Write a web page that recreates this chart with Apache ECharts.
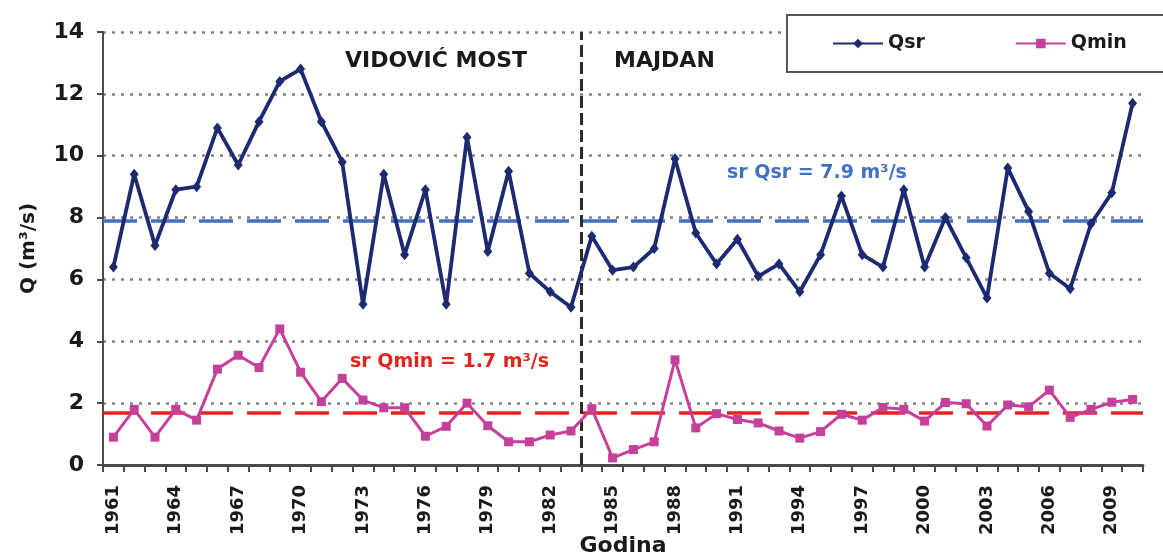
<!DOCTYPE html>
<html>
<head>
<meta charset="utf-8">
<script src="https://cdn.jsdelivr.net/npm/echarts@6/dist/echarts.min.js"></script>
<style>
  html, body { margin: 0; padding: 0; background: #ffffff; }
  #chart { width: 1163px; height: 556px; }
</style>
</head>
<body>
<div id="chart"></div>
<script>
// Years of record (1961–1983 Vidović Most, 1984–2010 Majdan)
const years = [
  '1961','1962','1963','1964','1965','1966','1967','1968','1969','1970',
  '1971','1972','1973','1974','1975','1976','1977','1978','1979','1980',
  '1981','1982','1983','1984','1985','1986','1987','1988','1989','1990',
  '1991','1992','1993','1994','1995','1996','1997','1998','1999','2000',
  '2001','2002','2003','2004','2005','2006','2007','2008','2009','2010'
];

// Mean annual discharge Qsr (m³/s)
const qsr = [
  6.4, 9.4, 7.1, 8.9, 9.0, 10.9, 9.7, 11.1, 12.4, 12.8,
  11.1, 9.8, 5.2, 9.4, 6.8, 8.9, 5.2, 10.6, 6.9, 9.5,
  6.2, 5.6, 5.1, 7.4, 6.3, 6.4, 7.0, 9.9, 7.5, 6.5,
  7.3, 6.1, 6.5, 5.6, 6.8, 8.7, 6.8, 6.4, 8.9, 6.4,
  8.0, 6.7, 5.4, 9.6, 8.2, 6.2, 5.7, 7.8, 8.8, 11.7
];

// Minimum annual discharge Qmin (m³/s)
const qmin = [
  0.9, 1.8, 0.9, 1.8, 1.45, 3.1, 3.55, 3.15, 4.4, 3.0,
  2.05, 2.8, 2.1, 1.85, 1.85, 0.93, 1.25, 2.0, 1.27, 0.75,
  0.75, 0.97, 1.1, 1.82, 0.23, 0.5, 0.75, 3.4, 1.2, 1.66,
  1.47, 1.36, 1.1, 0.87, 1.08, 1.64, 1.45, 1.86, 1.8, 1.42,
  2.02, 1.98, 1.26, 1.94, 1.88, 2.42, 1.54, 1.8, 2.03, 2.12
];

// Long-term averages
const meanQsr = 7.9;
const meanQmin = 1.7;

// First year measured at the Majdan station
const firstMajdanYear = '1984';

// Value-axis range
const yMin = 0, yMax = 14, yStep = 2;

const FONT = '"DejaVu Sans", sans-serif';
const NAVY = '#1d2a72';
const MAGENTA = '#c5409b';
const MEAN_BLUE = '#4470c2';
const MEAN_RED = '#e1251c';

const chart = echarts.init(document.getElementById('chart'), null, { renderer: 'canvas' });

chart.setOption({
  backgroundColor: '#ffffff',
  animation: false,
  grid: {
    left: 103, right: 20, top: 32, bottom: 91,
    containLabel: false,
    outerBoundsMode: 'none'
  },
  legend: {
    data: ['Qsr', 'Qmin'],
    orient: 'horizontal',
    left: 787,
    top: 15,
    width: 330,
    padding: [19, 80, 19, 45],
    itemGap: 90,
    itemWidth: 50,
    itemHeight: 12,
    backgroundColor: '#ffffff',
    borderColor: '#555555',
    borderWidth: 2,
    textStyle: { fontFamily: FONT, fontWeight: 'bold', fontSize: 19, color: '#1a1a1a' }
  },
  xAxis: [
    {
      type: 'category',
      data: years,
      boundaryGap: true,
      name: 'Godina',
      nameLocation: 'middle',
      nameGap: 70,
      nameMoveOverlap: false,
      nameTextStyle: { fontFamily: FONT, fontWeight: 'bold', fontSize: 22, color: '#1a1a1a' },
      axisLine: { lineStyle: { color: '#4a4a4a', width: 3 } },
      axisTick: { show: true, interval: 0, length: 7, lineStyle: { color: '#4a4a4a', width: 2 } },
      axisLabel: {
        interval: 2,
        rotate: 90,
        margin: 20,
        fontFamily: FONT,
        fontWeight: 'bold',
        fontSize: 18,
        color: '#1a1a1a'
      },
      splitLine: { show: false }
    },
    {
      // Band-edge scale used for the station boundary line
      type: 'value',
      min: 0,
      max: years.length,
      show: false
    }
  ],
  yAxis: {
    type: 'value',
    min: yMin,
    max: yMax,
    interval: yStep,
    name: 'Q (m³/s)',
    nameLocation: 'middle',
    nameRotate: 90,
    nameGap: 64,
    nameMoveOverlap: false,
    nameTextStyle: { fontFamily: FONT, fontWeight: 'bold', fontSize: 20, color: '#1a1a1a' },
    axisLine: { show: true, lineStyle: { color: '#4a4a4a', width: 2 } },
    axisTick: { show: true, length: 6, lineStyle: { color: '#4a4a4a', width: 2 } },
    axisLabel: { margin: 19, fontFamily: FONT, fontWeight: 'bold', fontSize: 22, color: '#1a1a1a' },
    splitLine: { show: true, lineStyle: { color: '#858585', width: 2.5, type: [3, 6] } }
  },
  series: [
    {
      name: 'Qsr',
      type: 'line',
      data: qsr,
      z: 5,
      color: NAVY,
      symbol: 'diamond',
      symbolSize: [9, 11],
      lineStyle: { color: NAVY, width: 3.8 },
      itemStyle: { color: NAVY },
      markLine: {
        silent: true,
        symbol: 'none',
        z: 2,
        label: { show: false },
        lineStyle: { color: MEAN_BLUE, width: 3.5, type: [34, 14] },
        data: [{ yAxis: meanQsr }]
      }
    },
    {
      name: 'Qmin',
      type: 'line',
      data: qmin,
      z: 5,
      color: MAGENTA,
      symbol: 'rect',
      symbolSize: 9,
      lineStyle: { color: MAGENTA, width: 3 },
      itemStyle: { color: MAGENTA },
      markLine: {
        silent: true,
        symbol: 'none',
        z: 2,
        label: { show: false },
        lineStyle: { color: MEAN_RED, width: 3.5, type: [34, 14] },
        data: [{ yAxis: meanQmin }]
      }
    },
    {
      name: 'station-boundary',
      type: 'line',
      xAxisIndex: 1,
      data: [],
      markLine: {
        silent: true,
        symbol: 'none',
        z: 3,
        label: { show: false },
        lineStyle: { color: '#2b2b2b', width: 3, type: [12, 5] },
        data: [{ xAxis: years.indexOf(firstMajdanYear) }]
      }
    }
  ],
  graphic: [
    {
      type: 'text', left: 345, top: 50, z: 10,
      style: { text: 'VIDOVIĆ MOST', font: 'bold 22px ' + FONT, fill: '#1a1a1a' }
    },
    {
      type: 'text', left: 614, top: 50, z: 10,
      style: { text: 'MAJDAN', font: 'bold 22px ' + FONT, fill: '#1a1a1a' }
    },
    {
      type: 'text', left: 727, top: 164, z: 10,
      style: { text: 'sr Qsr = ' + meanQsr.toFixed(1) + ' m³/s', font: 'bold 19px ' + FONT, fill: MEAN_BLUE }
    },
    {
      type: 'text', left: 350, top: 353, z: 10,
      style: { text: 'sr Qmin = ' + meanQmin.toFixed(1) + ' m³/s', font: 'bold 19px ' + FONT, fill: MEAN_RED }
    }
  ]
});
</script>
</body>
</html>
